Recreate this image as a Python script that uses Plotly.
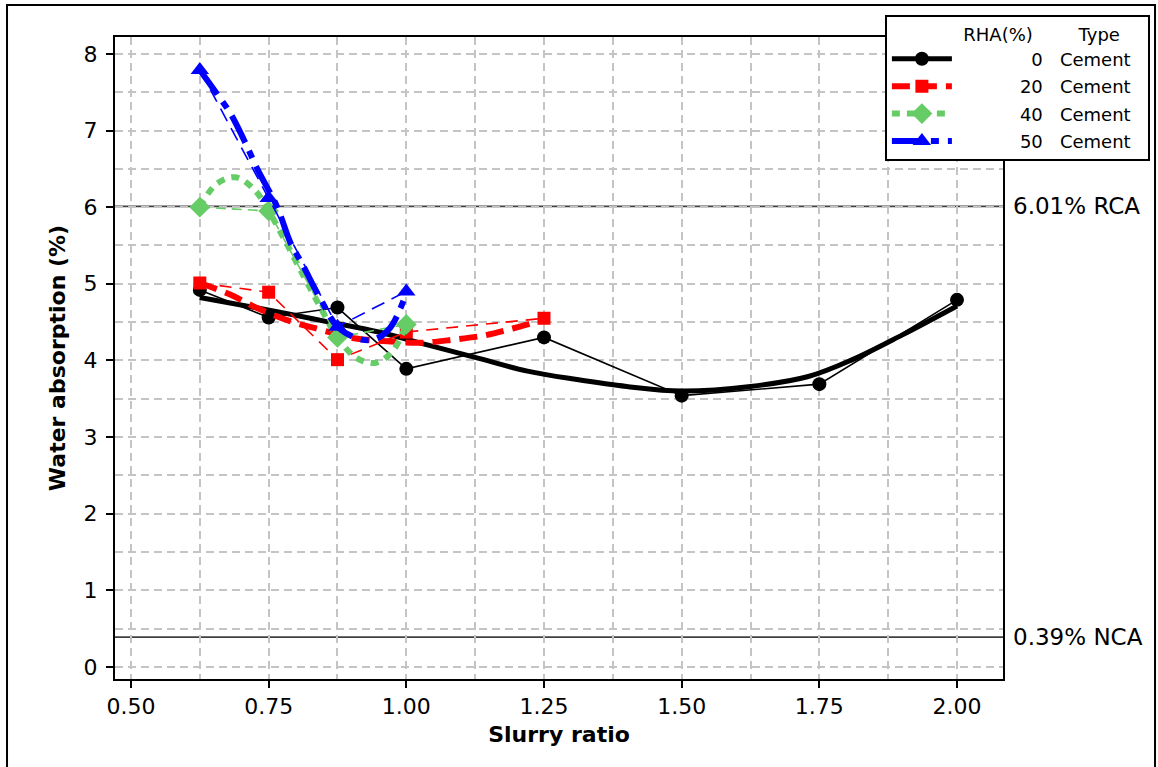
import plotly.graph_objects as go

# Measured water absorption (%) versus slurry ratio, cement slurries with RHA replacement
slurry_0 = [0.625, 0.75, 0.875, 1.0, 1.25, 1.5, 1.75, 2.0]
wa_0 = [4.92, 4.56, 4.69, 3.89, 4.30, 3.54, 3.69, 4.79]

slurry_20 = [0.625, 0.75, 0.875, 1.0, 1.25]
wa_20 = [5.01, 4.89, 4.01, 4.37, 4.55]

slurry_40 = [0.625, 0.75, 0.875, 1.0]
wa_40 = [6.00, 5.95, 4.30, 4.47]

slurry_50 = [0.625, 0.75, 0.875, 1.0]
wa_50 = [7.79, 6.12, 4.44, 4.90]

# Fitted trend curves for each mix
fit_x_0 = [0.625, 0.68, 0.77, 0.86, 0.95, 1.04, 1.13, 1.22, 1.31, 1.40, 1.50, 1.625, 1.73, 1.81, 1.90, 2.0]
fit_y_0 = [4.82, 4.75, 4.63, 4.50, 4.37, 4.20, 4.03, 3.86, 3.75, 3.66, 3.60, 3.66, 3.79, 4.01, 4.33, 4.71]

fit_x_20 = [0.625, 0.68, 0.73, 0.79, 0.845, 0.905, 0.965, 1.025, 1.085, 1.145, 1.195, 1.25]
fit_y_20 = [5.01, 4.86, 4.68, 4.51, 4.40, 4.29, 4.25, 4.23, 4.27, 4.33, 4.42, 4.53]

fit_x_40 = [0.625, 0.655, 0.69, 0.725, 0.75, 0.78, 0.815, 0.845, 0.875, 0.91, 0.945, 0.975, 1.0]
fit_y_40 = [6.00, 6.30, 6.39, 6.22, 5.95, 5.56, 5.08, 4.68, 4.30, 4.03, 3.97, 4.12, 4.47]

fit_x_50 = [0.625, 0.655, 0.68, 0.705, 0.73, 0.765, 0.79, 0.81, 0.845, 0.875, 0.91, 0.94, 0.97, 1.0]
fit_y_50 = [7.79, 7.49, 7.23, 6.88, 6.49, 6.01, 5.53, 5.27, 4.79, 4.44, 4.29, 4.27, 4.42, 4.88]

rha_levels = ["0", "20", "40", "50"]
binder_type = "Cement"

# Reference aggregate absorption levels
rca_level = 6.01
nca_level = 0.39

x_ticks = [0.50, 0.75, 1.00, 1.25, 1.50, 1.75, 2.00]
y_ticks = [0, 1, 2, 3, 4, 5, 6, 7, 8]

FONT = "DejaVu Sans"
GRID = "#c4c4c4"
NB = "\u00a0"
FIG = "\u2007"

series = [
    dict(x=slurry_0, y=wa_0, fx=fit_x_0, fy=fit_y_0, color="black",
         symbol="circle", msize=14, thin_dash="solid", thick_dash="solid", thick_w=5),
    dict(x=slurry_20, y=wa_20, fx=fit_x_20, fy=fit_y_20, color="#ff0000",
         symbol="square", msize=13, thin_dash="12px,8px", thick_dash="18px,9px", thick_w=6),
    dict(x=slurry_40, y=wa_40, fx=fit_x_40, fy=fit_y_40, color="#66cc66",
         symbol="diamond", msize=16, thin_dash="10px,6px", thick_dash="8px,7px", thick_w=6),
    dict(x=slurry_50, y=wa_50, fx=fit_x_50, fy=fit_y_50, color="#0000ff",
         symbol="triangle-up", msize=16, thin_dash="14px,8px", thick_dash="30px,9px,8px,9px", thick_w=6),
]

fig = go.Figure()

for lvl, s in zip(rha_levels, series):
    # thin line joining the measured points
    fig.add_trace(go.Scatter(
        x=s["x"], y=s["y"], mode="lines+markers",
        line=dict(color=s["color"], width=1.6, dash=s["thin_dash"]),
        marker=dict(symbol=s["symbol"], size=s["msize"], color=s["color"]),
        showlegend=False, hoverinfo="skip"))
    # thick fitted trend
    fig.add_trace(go.Scatter(
        x=s["fx"], y=s["fy"], mode="lines",
        line=dict(color=s["color"], width=s["thick_w"], dash=s["thick_dash"], shape="spline"),
        showlegend=False, hoverinfo="skip"))

# legend keys: thick line with its marker, numbers right-aligned with figure spaces
for lvl, s in zip(rha_levels, series):
    label = FIG * (7 - len(lvl)) + NB + lvl + NB * 3 + binder_type + NB * 2
    fig.add_trace(go.Scatter(
        x=[None], y=[None], mode="lines+markers", name=label, legendgroup="g" + lvl,
        line=dict(color=s["color"], width=s["thick_w"], dash=s["thick_dash"]),
        marker=dict(symbol=s["symbol"], size=s["msize"], color=s["color"])))

axis_common = dict(
    showline=True, linecolor="black", linewidth=2, mirror=True,
    ticks="outside", ticklen=7, tickwidth=1.5, tickcolor="black",
    showgrid=True, gridcolor=GRID, gridwidth=1.5, griddash="8px,5px",
    zeroline=False, tickfont=dict(family=FONT, size=22, color="black"),
)

fig.update_layout(
    width=1158, height=767,
    margin=dict(l=115, r=155, t=37, b=88, autoexpand=False),
    paper_bgcolor="white", plot_bgcolor="white",
    xaxis=dict(
        range=[0.471, 2.0835], tickvals=x_ticks, tickformat=".2f",
        minor=dict(dtick=0.125, tick0=0.5, showgrid=True, gridcolor=GRID,
                   gridwidth=1.5, griddash="8px,5px", ticks=""),
        title=dict(text="<b>Slurry ratio</b>", font=dict(family=FONT, size=22, color="black"),
                   standoff=8),
        **axis_common),
    yaxis=dict(
        range=[-0.157, 8.22], tickvals=y_ticks,
        minor=dict(dtick=0.5, tick0=0, showgrid=True, gridcolor=GRID,
                   gridwidth=1.5, griddash="8px,5px", ticks=""),
        title=dict(text="<b>Water absorption (%)</b>", font=dict(family=FONT, size=22, color="black"),
                   standoff=12),
        ticklabelstandoff=4,
        **axis_common),
    legend=dict(
        x=0.867, y=1.034, xanchor="left", yanchor="top",
        bordercolor="black", borderwidth=2, bgcolor="white",
        font=dict(family=FONT, size=18, color="black"),
        title=dict(text=NB * 13 + "RHA(%)" + NB * 8 + "Type",
                   font=dict(family=FONT, size=18, color="black")),
        itemwidth=60, tracegroupgap=1,
    ),
    shapes=[
        dict(type="line", xref="paper", yref="y", x0=0, x1=1, y0=rca_level, y1=rca_level,
             line=dict(color="#404040", width=1.6), layer="between"),
        dict(type="line", xref="paper", yref="y", x0=0, x1=1, y0=nca_level, y1=nca_level,
             line=dict(color="#404040", width=1.6), layer="between"),
        dict(type="rect", xref="paper", yref="paper", x0=-0.1216, x1=1.1712, y0=-0.16, y1=1.0498,
             line=dict(color="black", width=2), fillcolor="rgba(0,0,0,0)", layer="below"),
    ],
    annotations=[
        dict(xref="paper", yref="y", x=1.0, y=rca_level, xanchor="left", yanchor="middle",
             xshift=8, showarrow=False, text=f"{rca_level:.2f}% RCA",
             font=dict(family=FONT, size=23, color="black")),
        dict(xref="paper", yref="y", x=1.0, y=nca_level, xanchor="left", yanchor="middle",
             xshift=8, showarrow=False, text=f"{nca_level:.2f}% NCA",
             font=dict(family=FONT, size=23, color="black")),
    ],
)

fig.write_html("out.html")
